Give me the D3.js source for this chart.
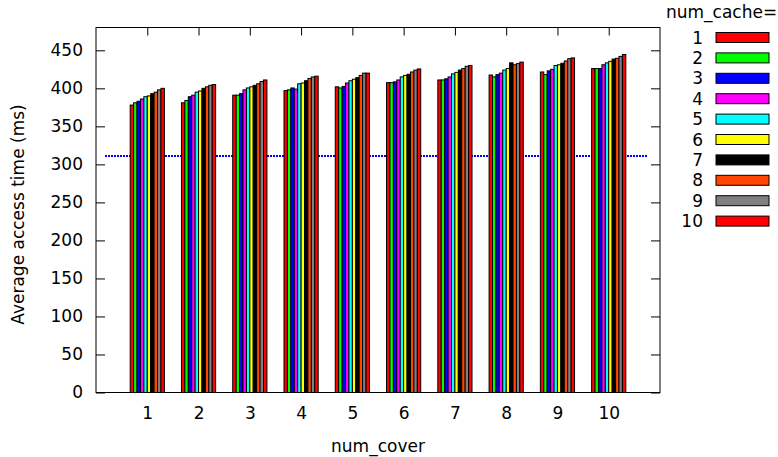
<!DOCTYPE html>
<html>
<head>
<meta charset="utf-8">
<script src="https://cdn.jsdelivr.net/npm/d3@7"></script>
<style>
  body { margin: 0; background: #fff; }
  text { font-family: "DejaVu Sans", sans-serif; font-size: 17px; fill: #000; }
</style>
</head>
<body>
<script>
// x categories and legend entries
var numCover = [1, 2, 3, 4, 5, 6, 7, 8, 9, 10];
var numCache = ["1", "2", "3", "4", "5", "6", "7", "8", "9", "10"];
var yTicks = [0, 50, 100, 150, 200, 250, 300, 350, 400, 450];

// average access time per num_cache, one value per num_cover
var cache1  = [378, 381, 391, 397, 402, 407.5, 411, 417.5, 421.5, 426];
var cache2  = [381, 384, 391, 398, 400.5, 407.5, 411, 415, 418, 426];
var cache3  = [383, 389, 393, 400.5, 402.5, 408.5, 412.5, 418, 423, 426];
var cache4  = [386, 391, 398, 399, 407, 411, 415, 420, 425, 431];
var cache5  = [389, 395, 400.5, 406, 410, 415, 419, 424, 430, 433.5];
var cache6  = [390, 396.5, 402, 407, 412, 417, 421, 426, 431, 435.5];
var cache7  = [393, 400, 404, 410, 414, 418.5, 424, 433.5, 433, 438.5];
var cache8  = [395, 402, 406, 413, 417, 421.5, 426, 431, 436, 439.5];
var cache9  = [398, 404, 409, 415, 420, 424, 429, 432.5, 439, 442];
var cache10 = [400, 405, 411, 416, 420, 425.5, 430, 434.5, 440, 444.5];

// dotted reference line
var refValue = 311;
var refExtent = [0.17, 10.77];

var series = [cache1, cache2, cache3, cache4, cache5, cache6, cache7, cache8, cache9, cache10];
var colors = ["#ff0000", "#00ff00", "#0000ff", "#ff00ff", "#00ffff",
              "#ffff00", "#000000", "#ff4500", "#808080", "#ff0000"];

var margin = {top: 27.5, right: 118, bottom: 64.5, left: 96},
    width = 778 - margin.left - margin.right,
    height = 457 - margin.top - margin.bottom;

var x = d3.scaleLinear().domain([0, 11]).range([0, width]);
var y = d3.scaleLinear().domain([0, 480]).range([height, 0]);

// gnuplot style clustered histogram: 10 bars + gap of 5 per unit
var barW = x(1) - x(0);
barW = barW / (series.length + 5);

var svg = d3.select("body").append("svg")
    .attr("width", 778)
    .attr("height", 457)
  .append("g")
    .attr("transform", "translate(" + margin.left + "," + margin.top + ")");

// y axis, ticks inward, mirrored on the right
var yAxis = svg.append("g")
    .call(d3.axisLeft(y).tickValues(yTicks).tickSize(-9).tickPadding(13));
yAxis.select(".domain").remove();
yAxis.selectAll("text").style("font-size", "17px").style("font-family", "DejaVu Sans");

var yAxisR = svg.append("g")
    .attr("transform", "translate(" + width + ",0)")
    .call(d3.axisRight(y).tickValues(yTicks).tickSize(-9).tickFormat(""));
yAxisR.select(".domain").remove();

// x axis, ticks inward, mirrored on top
var xAxis = svg.append("g")
    .attr("transform", "translate(0," + height + ")")
    .call(d3.axisBottom(x).tickValues(numCover).tickSize(-8).tickPadding(14));
xAxis.select(".domain").remove();
xAxis.selectAll("text").style("font-size", "17px").style("font-family", "DejaVu Sans");

var xAxisT = svg.append("g")
    .call(d3.axisTop(x).tickValues(numCover).tickSize(-8).tickFormat(""));
xAxisT.select(".domain").remove();

// dotted line behind the bars
svg.append("line")
    .attr("x1", x(refExtent[0]))
    .attr("x2", x(refExtent[1]))
    .attr("y1", y(refValue))
    .attr("y2", y(refValue))
    .attr("stroke", "#0000ff")
    .attr("stroke-width", 2)
    .attr("stroke-dasharray", "2,1")
    .attr("shape-rendering", "crispEdges");

// bars
series.forEach(function(vals, j) {
  svg.selectAll(".bar" + j)
      .data(vals)
    .enter().append("rect")
      .attr("class", "bar" + j)
      .attr("x", function(d, i) { return x(numCover[i]) + (j - series.length / 2) * barW; })
      .attr("y", function(d) { return y(d); })
      .attr("width", barW)
      .attr("height", function(d) { return height - y(d); })
      .attr("fill", colors[j])
      .attr("stroke", "#000")
      .attr("stroke-width", 1);
});

// frame
svg.append("rect")
    .attr("width", width)
    .attr("height", height)
    .attr("fill", "none")
    .attr("stroke", "#000")
    .attr("stroke-width", 1);

// axis titles
svg.append("text")
    .attr("transform", "rotate(-90)")
    .attr("x", -(height / 2) + 0.5 - 5)
    .attr("y", 24 - margin.left)
    .style("text-anchor", "middle")
    .text("Average access time (ms)");

svg.append("text")
    .attr("x", width / 2)
    .attr("y", height + 59)
    .style("text-anchor", "middle")
    .text("num_cover");

// legend
var legend = svg.append("g")
    .attr("transform", "translate(" + width + ",0)");

legend.append("text")
    .attr("x", 6)
    .attr("y", 18 - margin.top)
    .text("num_cache=");

var entry = legend.selectAll(".entry")
    .data(numCache)
  .enter().append("g")
    .attr("class", "entry")
    .attr("transform", function(d, i) { return "translate(0," + (32.5 - margin.top + i * 20.4) + ")"; });

entry.append("text")
    .attr("x", 43)
    .attr("y", 11)
    .style("text-anchor", "end")
    .text(function(d) { return d; });

entry.append("rect")
    .attr("x", 56)
    .attr("y", 0)
    .attr("width", 53)
    .attr("height", 10)
    .attr("fill", function(d, i) { return colors[i]; })
    .attr("stroke", "#000")
    .attr("stroke-width", 1);
</script>
</body>
</html>
